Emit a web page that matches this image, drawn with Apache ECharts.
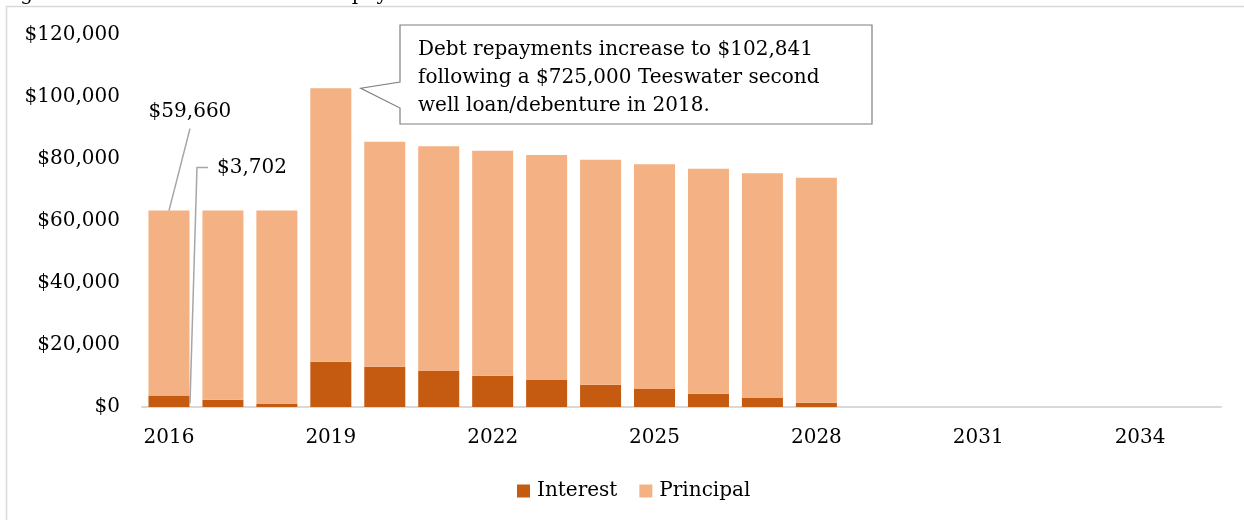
<!DOCTYPE html>
<html>
<head>
<meta charset="utf-8">
<script src="https://cdn.jsdelivr.net/npm/echarts@6/dist/echarts.min.js"></script>
<style>
html,body{margin:0;padding:0;background:#fff;}
#chart{width:1244px;height:520px;}
</style>
</head>
<body>
<div id="chart"></div>
<script>
const years = ['2016','2017','2018','2019','2020','2021','2022','2023','2024','2025','2026','2027','2028','2029','2030','2031','2032','2033','2034','2035'];
const interest = [3702, 2360, 1000, 14620, 13010, 11620, 10100, 8720, 7200, 5810, 4290, 2900, 1390, null, null, null, null, null, null, null];
const principal = [59660, 61002, 62362, 88221, 72530, 72530, 72540, 72530, 72530, 72530, 72540, 72540, 72530, null, null, null, null, null, null, null];
const yTicks = [0, 20000, 40000, 60000, 80000, 100000, 120000];
const titleText = 'Figure 6 Teeswater Water Debt Repayment';
const calloutLines = ['Debt repayments increase to $102,841', 'following a $725,000 Teeswater second', 'well loan/debenture in 2018.'];

const FONT = '"DejaVu Serif", serif';
const fmt = v => '$' + v.toLocaleString('en-US');

const chart = echarts.init(document.getElementById('chart'), null, {renderer: 'canvas'});
const option = {
  animation: false,
  backgroundColor: '#fff',
  textStyle: {fontFamily: FONT},
  grid: {left: 142, right: 23, top: 35, bottom: 113, containLabel: false},
  legend: {
    data: ['Interest', 'Principal'],
    bottom: 14, left: 512,
    itemWidth: 13, itemHeight: 13, itemGap: 22,
    icon: 'rect',
    textStyle: {fontFamily: FONT, fontSize: 20, color: '#000', padding: [0, 0, 0, 2]}
  },
  xAxis: {
    type: 'category',
    data: years,
    axisLine: {lineStyle: {color: '#d9d9d9', width: 2}},
    axisTick: {show: false},
    axisLabel: {interval: 2, fontFamily: FONT, fontSize: 20, color: '#000', margin: 21}
  },
  yAxis: {
    type: 'value',
    min: yTicks[0], max: yTicks[yTicks.length - 1], interval: yTicks[1] - yTicks[0],
    axisLine: {show: false},
    axisTick: {show: false},
    splitLine: {show: false},
    axisLabel: {fontFamily: FONT, fontSize: 20, color: '#000', margin: 22, formatter: v => fmt(v)}
  },
  series: [
    {name: 'Interest', type: 'bar', stack: 'debt', data: interest, barCategoryGap: '24%', itemStyle: {color: '#c55a11'}},
    {name: 'Principal', type: 'bar', stack: 'debt', data: principal, itemStyle: {color: '#f4b183'}}
  ]
};
chart.setOption(option);

const px = (i, v) => chart.convertToPixel({xAxisIndex: 0, yAxisIndex: 0}, [years[i], v]);
const tot0 = interest[0] + principal[0];
const pTop0 = px(0, tot0);
const pInt0 = px(0, interest[0]);
const tot3 = interest[3] + principal[3];
const pTop3 = px(3, tot3);

const lbl1 = [pTop0[0] + 21, pTop0[1] - 99];
const lbl2 = [pTop0[0] + 83, pTop0[1] - 43];
const tip = [pTop3[0] + 30, pTop3[1]];
const bx = 400, by = 25, bw = 472, bh = 99;

const gline = '#a6a6a6';
chart.setOption({
  graphic: [
    {type: 'polyline', shape: {points: [[6.5, 600], [6.5, 6.5], [1300, 6.5]]}, style: {fill: null, stroke: '#d9d9d9', lineWidth: 1.5}, silent: true, z: -1},
    {type: 'text', x: 0, y: 5, style: {text: titleText, font: '20px ' + FONT, fill: '#000', textVerticalAlign: 'bottom', verticalAlign: 'bottom'}},
    {type: 'line', shape: {x1: lbl1[0], y1: lbl1[1] + 17, x2: pTop0[0], y2: pTop0[1]}, style: {stroke: gline, lineWidth: 1.5}, z: 10},
    {type: 'text', x: lbl1[0], y: lbl1[1], style: {text: fmt(principal[0]), font: '20px ' + FONT, fill: '#000', align: 'center', verticalAlign: 'middle'}, z: 10},
    {type: 'polyline', shape: {points: [[lbl2[0] - 44, lbl2[1]], [lbl2[0] - 55, lbl2[1]], [pInt0[0] + 21, pInt0[1] + 8]]}, style: {stroke: gline, lineWidth: 1.5, fill: null}, z: 10},
    {type: 'text', x: lbl2[0], y: lbl2[1], style: {text: fmt(interest[0]), font: '20px ' + FONT, fill: '#000', align: 'center', verticalAlign: 'middle'}, z: 10},
    {type: 'polygon', shape: {points: [[bx, by], [bx + bw, by], [bx + bw, by + bh], [bx, by + bh], [bx, by + 83], tip, [bx, by + 57]]}, style: {fill: '#fff', stroke: '#7f7f7f', lineWidth: 1.2}, z: 10},
    {type: 'text', x: bx + 18, y: by + 25, style: {text: calloutLines[0], font: '20px ' + FONT, fill: '#000', verticalAlign: 'middle'}, z: 11},
    {type: 'text', x: bx + 18, y: by + 53, style: {text: calloutLines[1], font: '20px ' + FONT, fill: '#000', verticalAlign: 'middle'}, z: 11},
    {type: 'text', x: bx + 18, y: by + 81, style: {text: calloutLines[2], font: '20px ' + FONT, fill: '#000', verticalAlign: 'middle'}, z: 11}
  ]
});
</script>
</body>
</html>
